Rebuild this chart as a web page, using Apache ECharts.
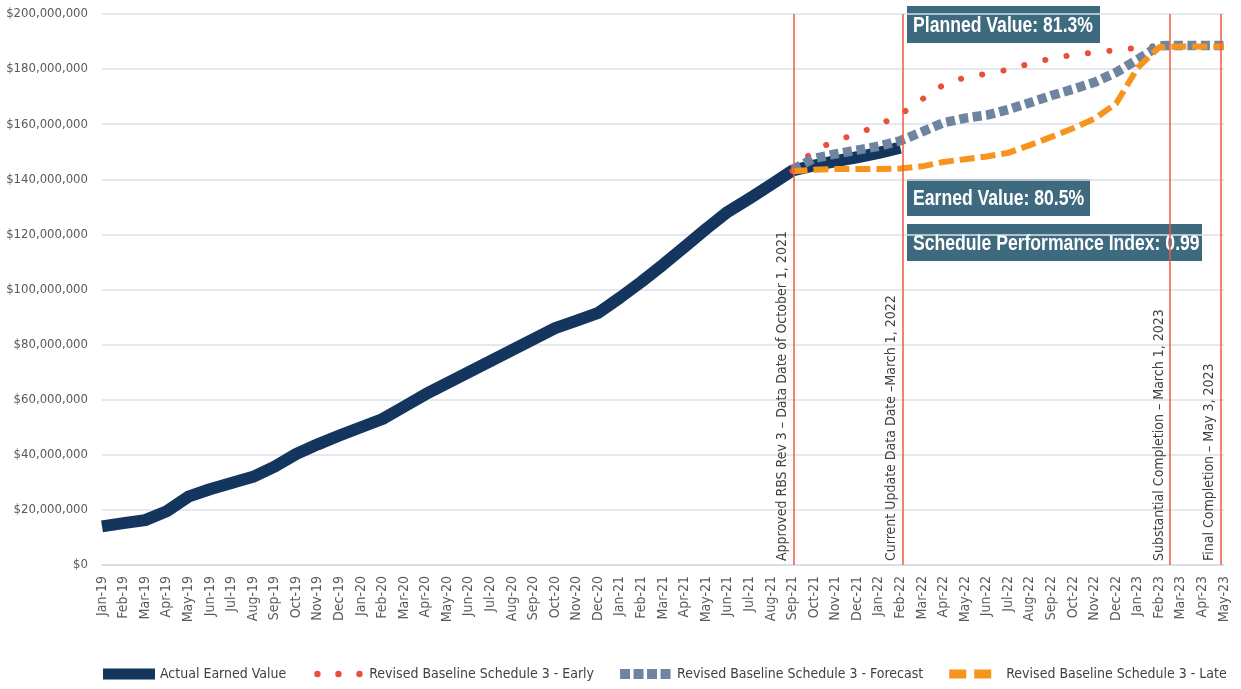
<!DOCTYPE html>
<html>
<head>
<meta charset="utf-8">
<script src="https://cdn.jsdelivr.net/npm/echarts@6/dist/echarts.min.js"></script>
<style>
  html, body { margin: 0; padding: 0; background: #fff; }
  #main { width: 1241px; height: 689px; }
</style>
</head>
<body>
<div id="main"></div>
<script>
var categories = ['Jan-19','Feb-19','Mar-19','Apr-19','May-19','Jun-19','Jul-19','Aug-19','Sep-19','Oct-19','Nov-19','Dec-19',
    'Jan-20','Feb-20','Mar-20','Apr-20','May-20','Jun-20','Jul-20','Aug-20','Sep-20','Oct-20','Nov-20','Dec-20',
    'Jan-21','Feb-21','Mar-21','Apr-21','May-21','Jun-21','Jul-21','Aug-21','Sep-21','Oct-21','Nov-21','Dec-21',
    'Jan-22','Feb-22','Mar-22','Apr-22','May-22','Jun-22','Jul-22','Aug-22','Sep-22','Oct-22','Nov-22','Dec-22',
    'Jan-23','Feb-23','Mar-23','Apr-23','May-23'];

// $ millions, Jan-19 .. Feb-22
var actualEV = [14, 15.2, 16.3, 19.5, 24.8, 27.5, 29.8, 32, 35.7, 40.3, 43.8, 47,
    50, 53, 57.5, 62, 66, 70, 74, 78, 82, 86, 88.7, 91.5,
    97, 102.8, 109, 115.5, 122, 128.2, 133, 138, 143.2, 145, 146.6, 148,
    149.6, 151.5];

// $ millions, Sep-21 .. May-23
var baselineStart = 'Sep-21';
var earlyVals = [143, 150.5, 154, 156.5, 159.7, 163.5, 169, 174.3, 177, 178.3, 179.8, 182,
    183.8, 185.2, 186, 186.9, 187.7, 188.5, null, null, null];
var forecastVals = [143.5, 147.6, 149.2, 150.6, 152, 154, 157.2, 160.5, 162.2, 163.3, 165.3, 167.8,
    170.4, 172.7, 175.2, 178.8, 183.5, 188.5, 188.6, 188.6, 188.6];
var lateVals = [142.9, 143.5, 143.7, 143.7, 143.7, 143.9, 144.7, 146.3, 147.3, 148.3, 149.6, 152.4,
    155.4, 158.5, 162, 167.5, 180.5, 188, 188.2, 188.2, 188.2];

var seriesNames = ['Actual Earned Value', 'Revised Baseline Schedule 3 - Early',
    'Revised Baseline Schedule 3 - Forecast', 'Revised Baseline Schedule 3 - Late'];

// milestone lines, position in months from Jan-19
var milestonePos = [32.05, 37.1, 49.5, 51.85];
var milestoneText = ['Approved RBS Rev 3 \u2013 Data Date of October 1, 2021',
    'Current Update Data Date \u2013March 1, 2022',
    'Substantial Completion \u2013 March 1, 2023',
    'Final Completion \u2013 May 3, 2023'];

var calloutText = ['Planned Value: 81.3%', 'Earned Value: 80.5%', 'Schedule Performance Index: 0.99'];

var FONT = '"DejaVu Sans Condensed", "Liberation Sans", sans-serif';

function pad(vals) {
    var start = categories.indexOf(baselineStart);
    var out = [];
    for (var i = 0; i < start; i++) out.push(null);
    return out.concat(vals);
}

var boxes = [
    {x: 907, y: 6, w: 193},
    {x: 907, y: 179, w: 183},
    {x: 907, y: 224, w: 295}
];
var graphics = [];
for (var i = 0; i < calloutText.length; i++) {
    graphics.push({
        type: 'group', x: boxes[i].x, y: boxes[i].y, z: 100,
        children: [
            {type: 'rect', shape: {x: 0, y: 0, width: boxes[i].w, height: 37}, style: {fill: '#3e6a80'}},
            {type: 'text', x: 6, y: 20, scaleX: 0.8, style: {text: calloutText[i], fill: '#fff',
                font: 'bold 22px "Liberation Sans", sans-serif', verticalAlign: 'middle'}}
        ]
    });
}

var myChart = echarts.init(document.getElementById('main'));
var option = {
    animation: false,
    grid: {left: 102, right: 17, top: 14, bottom: 124, containLabel: false, outerBoundsMode: 'none'},
    legend: {
        left: 98, top: 662,
        itemWidth: 52, itemHeight: 11, itemGap: 26,
        symbolKeepAspect: false,
        itemStyle: {borderWidth: 0},
        textStyle: {fontFamily: FONT, fontSize: 14, color: '#404040'},
        data: [
            {name: seriesNames[0], icon: 'rect'},
            {name: seriesNames[1], icon: 'path://M0 0M52 11M2 5.5a3.2 3.2 0 1 0 6.4 0a3.2 3.2 0 1 0 -6.4 0ZM23 5.5a3.2 3.2 0 1 0 6.4 0a3.2 3.2 0 1 0 -6.4 0ZM44 5.5a3.2 3.2 0 1 0 6.4 0a3.2 3.2 0 1 0 -6.4 0Z'},
            {name: seriesNames[2], icon: 'path://M0 0M52 11M0 0.5h10v10h-10ZM13.5 0.5h10v10h-10ZM27 0.5h10v10h-10ZM40.5 0.5h10v10h-10Z'},
            {name: seriesNames[3], icon: 'path://M0 0M52 11M0 1h17v9h-17ZM25 1h17v9h-17Z'}
        ]
    },
    xAxis: [{
        type: 'category',
        data: categories,
        boundaryGap: false,
        axisLine: {lineStyle: {color: '#d6dbe2', width: 1.5}},
        axisTick: {show: false},
        axisLabel: {rotate: 90, interval: 0, margin: 11, fontFamily: FONT, fontSize: 14, color: '#595959'}
    }, {
        type: 'value', min: 0, max: categories.length - 1, show: false
    }],
    yAxis: {
        type: 'value', min: 0, max: 200, interval: 20,
        axisLine: {show: false}, axisTick: {show: false},
        splitLine: {lineStyle: {color: '#dce1e8', width: 1.5}},
        axisLabel: {margin: 14, fontFamily: FONT, fontSize: 13, color: '#595959',
            formatter: function (v) { return '$' + (v * 1000000).toLocaleString('en-US'); }}
    },
    graphic: graphics,
    series: [
        {
            name: 'milestones', type: 'line', xAxisIndex: 1, data: [], silent: true,
            markLine: {
                silent: true, symbol: ['none', 'none'],
                lineStyle: {color: '#ee5a3e', width: 1.5, type: 'solid'},
                label: {position: 'insideStartTop', distance: 4, fontFamily: FONT, fontSize: 14, color: '#404040',
                    formatter: function (p) { return p.name; }},
                data: milestonePos.map(function (p, i) { return {xAxis: p, name: milestoneText[i]}; })
            }
        },
        {
            name: seriesNames[0], type: 'line', data: actualEV, symbol: 'none',
            color: '#14365e',
            lineStyle: {width: 12, color: '#14365e', cap: 'butt', join: 'round'}
        },
        {
            name: seriesNames[1], type: 'line', data: pad(earlyVals), symbol: 'none',
            color: '#e9503a',
            lineStyle: {width: 6, color: '#e9503a', type: [0.1, 21.5], cap: 'round'}
        },
        {
            name: seriesNames[2], type: 'line', data: pad(forecastVals), symbol: 'none',
            color: '#6e84a0',
            lineStyle: {width: 9.5, color: '#6e84a0', type: [9, 4.5], cap: 'butt'}
        },
        {
            name: seriesNames[3], type: 'line', data: pad(lateVals), symbol: 'none',
            color: '#f7941d',
            lineStyle: {width: 6, color: '#f7941d', type: [15, 6], cap: 'butt'}
        }
    ]
};
myChart.setOption(option);
</script>
</body>
</html>
